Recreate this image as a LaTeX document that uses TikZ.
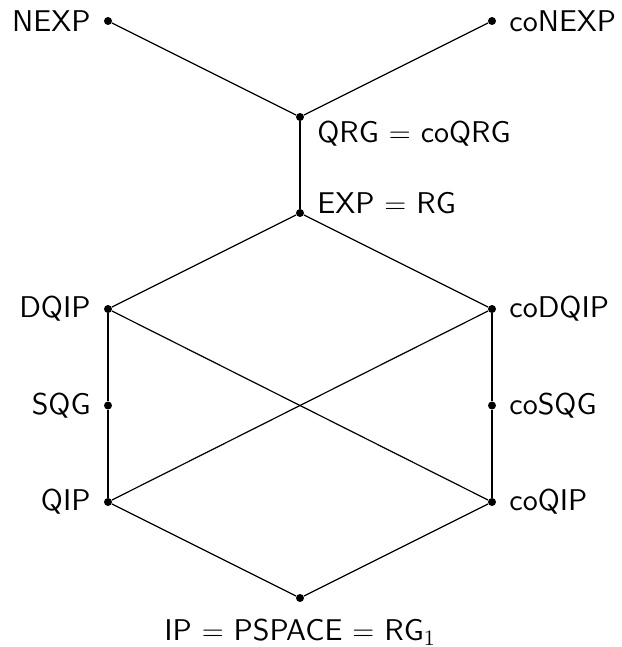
\documentclass[tikz,border=0pt]{standalone}
\usepackage{fontspec}
\setsansfont{lmsans10-regular.otf}
\begin{document}
\begin{tikzpicture}[x=0.5pt,y=-0.5pt,
  dot/.style={circle,fill=black,inner sep=0pt,minimum size=4pt},
  lbl/.style={font=\fontsize{15}{18}\selectfont\sffamily},
  lab/.style={lbl,label distance=3pt},
  thinedge/.style={line width=0.6pt},
  thickedge/.style={line width=1.2pt}]
\useasboundingbox (0,0) rectangle (621,647);
\node[dot,label={[lab]left:NEXP}] (nexp) at (108,21) {};
\node[dot,label={[lab]right:coNEXP}] (conexp) at (492,21) {};
\node[dot] (qrg) at (300,117) {};
\node[dot] (exp) at (300,213) {};
\node[dot,label={[lab]left:DQIP}] (dqip) at (108,309) {};
\node[dot,label={[lab]right:coDQIP}] (codqip) at (492,309) {};
\node[dot,label={[lab]left:SQG}] (sqg) at (108,405.5) {};
\node[dot,label={[lab]right:coSQG}] (cosqg) at (492,405.5) {};
\node[dot,label={[lab]left:QIP}] (qip) at (108,502) {};
\node[dot,label={[lab]right:coQIP}] (coqip) at (492,502) {};
\node[dot,label={[lab,label distance=5pt]below:IP $=$ PSPACE $=$ RG$_1$}] (ip) at (300,598) {};
\node[lbl,anchor=base west,inner sep=0pt] (qrgl) at ([xshift=8.5pt,yshift=-12.5pt]qrg.center) {QRG $=$ coQRG};
\node[lbl,anchor=base west,inner sep=0pt] (expl) at ([xshift=8.5pt]exp.center) {EXP $=$ RG};
\draw[thinedge] (nexp) -- (qrg);
\draw[thinedge] (conexp) -- (qrg);
\draw[thickedge] (qrg) -- (exp);
\draw[thinedge] (exp) -- (dqip);
\draw[thinedge] (exp) -- (codqip);
\draw[thickedge] (dqip) -- (sqg) -- (qip);
\draw[thickedge] (codqip) -- (cosqg) -- (coqip);
\draw[thinedge] (dqip) -- (coqip);
\draw[thinedge] (codqip) -- (qip);
\draw[thinedge] (qip) -- (ip);
\draw[thinedge] (coqip) -- (ip);
\end{tikzpicture}
\end{document}
